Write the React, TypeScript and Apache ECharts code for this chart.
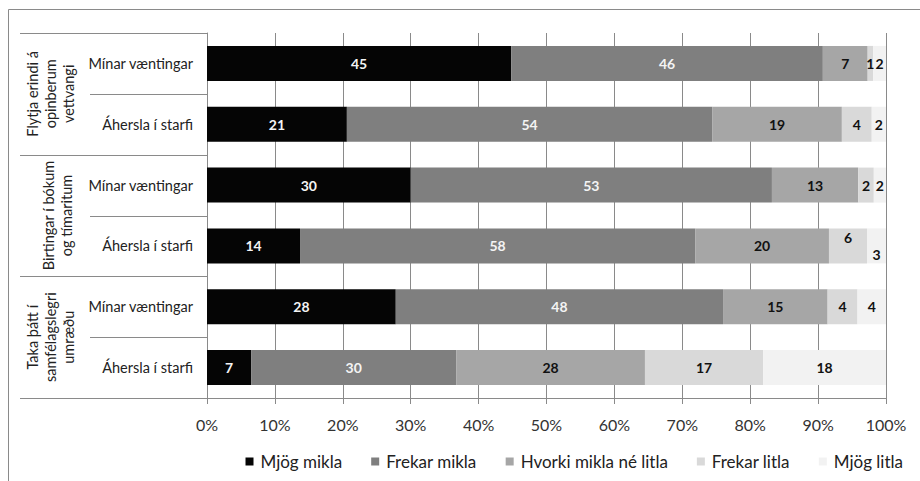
import React, { useEffect, useRef } from "react";
import * as echarts from "echarts";

const seriesNames = ["Mjög mikla", "Frekar mikla", "Hvorki mikla né litla", "Frekar litla", "Mjög litla"];
const rowKeys = ["r1", "r2", "r3", "r4", "r5", "r6"];
const subLabels = ["Mínar væntingar", "Áhersla í starfi", "Mínar væntingar", "Áhersla í starfi", "Mínar væntingar", "Áhersla í starfi"];
const groupLabels = ["Flytja erindi á\nopinberum\nvettvangi", "Birtingar í bókum\nog tímaritum", "Taka þátt í\nsamfélagslegri\numræðu"];
const xTicks = [0, 10, 20, 30, 40, 50, 60, 70, 80, 90, 100];

// shares (%) per row
const mjogMikla = [44.8, 20.6, 30.0, 13.7, 27.8, 6.5];
const frekarMikla = [45.9, 53.8, 53.2, 58.2, 48.2, 30.2];
const hvorki = [6.6, 19.1, 12.7, 19.7, 15.4, 27.8];
const frekarLitla = [0.8, 4.4, 2.3, 5.6, 4.4, 17.4];
const mjogLitla = [1.9, 2.1, 1.8, 2.8, 4.2, 18.1];

const seriesData = [mjogMikla, frekarMikla, hvorki, frekarLitla, mjogLitla];
const colors = ["#050505", "#7f7f7f", "#a6a6a6", "#d9d9d9", "#f2f2f2"];
const labelColors = ["#f4f4f4", "#f4f4f4", "#111", "#111", "#111"];

const FONT = "Lato";

export default function App() {
  const ref = useRef<HTMLDivElement>(null);
  useEffect(() => {
    if (!ref.current) return;
    const chart = echarts.init(ref.current, null, { renderer: "svg" });
    const gl = 207, gr = 34, gt = 33, gb = 83;
    const plotBottom = 481 - gb;
    const band = (plotBottom - gt) / rowKeys.length;
    const lineColor = "#8a8a8a";

    const graphics: any[] = [];
    graphics.push({
      type: "rect",
      shape: { x: 8.5, y: 9.5, width: 960, height: 520 },
      style: { fill: "none", stroke: lineColor, lineWidth: 1 },
      silent: true,
    });
    for (let k = 0; k <= rowKeys.length; k++) {
      const y = Math.round(gt + k * band) + 0.5;
      const isGroup = k % 2 === 0;
      graphics.push({
        type: "line",
        shape: { x1: isGroup ? 20 : 90, y1: y, x2: gl, y2: y },
        style: { stroke: lineColor, lineWidth: 1 },
        silent: true,
      });
    }
    const groupX = [50, 57, 50];
    groupLabels.forEach((t, g) => {
      graphics.push({
        type: "text",
        x: groupX[g],
        y: gt + (2 * g + 1) * band,
        rotation: Math.PI / 2,
        style: {
          text: t,
          align: "center",
          verticalAlign: "middle",
          fontFamily: FONT,
          fontSize: 14.5,
          lineHeight: 18,
          fill: "#222",
        },
        silent: true,
      });
    });

    const series = seriesData.map((vals, si) => ({
      name: seriesNames[si],
      type: "bar",
      stack: "total",
      barWidth: 35,
      itemStyle: { color: colors[si] },
      label: {
        show: true,
        position: "inside",
        color: labelColors[si],
        fontFamily: FONT,
        fontWeight: "bold",
        fontSize: 14,
        formatter: (p: any) => String(Math.round(p.value)),
      },
      data: vals.map((v, ri) => {
        if (ri === 3 && si === 3) return { value: v, label: { offset: [0, -8] } };
        if (ri === 3 && si === 4) return { value: v, label: { offset: [0, 9] } };
        return v;
      }),
    }));

    chart.setOption({
      animation: false,
      textStyle: { fontFamily: FONT },
      grid: { left: gl, right: gr, top: gt, bottom: gb, containLabel: false },
      xAxis: {
        type: "value",
        min: 0,
        max: 100,
        interval: 10,
        axisLine: { show: true, lineStyle: { color: lineColor } },
        axisTick: { show: true, length: 6, lineStyle: { color: lineColor } },
        splitLine: { show: true, lineStyle: { color: lineColor, width: 1 } },
        axisLabel: {
          formatter: (v: number) => (xTicks.includes(v) ? v + "%" : ""),
          color: "#333",
          fontSize: 16,
          fontFamily: FONT,
          margin: 18,
        },
      },
      yAxis: {
        type: "category",
        inverse: true,
        data: rowKeys,
        axisLine: { show: true, lineStyle: { color: lineColor } },
        axisTick: { show: false },
        axisLabel: {
          formatter: (_v: string, i: number) => subLabels[i],
          color: "#222",
          fontSize: 14.5,
          fontFamily: FONT,
          margin: 14,
        },
      },
      legend: {
        bottom: 6,
        right: 12,
        itemWidth: 8,
        itemHeight: 8,
        itemGap: 29,
        icon: "rect",
        textStyle: { fontFamily: FONT, fontSize: 17, color: "#222", padding: [0, 0, 0, 2] },
        data: seriesNames,
      },
      graphic: graphics,
      series,
    });
    return () => chart.dispose();
  }, []);
  return (
    <div
      ref={ref}
      style={{ position: "fixed", left: 0, top: 0, width: 920, height: 481, background: "#fff" }}
    />
  );
}
